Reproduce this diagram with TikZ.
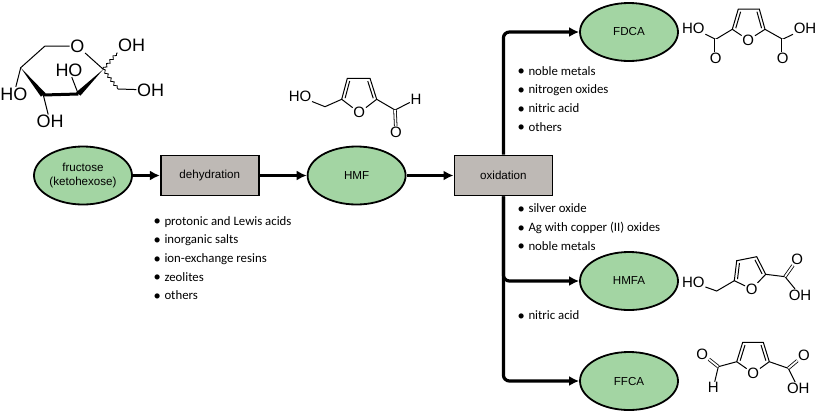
\documentclass[tikz,border=0pt]{standalone}
\usepackage{fontspec}
\setmainfont{Liberation Sans}
\newfontfamily\listfont{Carlito}
\usetikzlibrary{positioning}
\usetikzlibrary{calc}
\usetikzlibrary{shapes.geometric}
\usetikzlibrary{arrows.meta}
\usetikzlibrary{decorations.pathmorphing}
\definecolor{leaf}{HTML}{A3D5A3}
\definecolor{stone}{HTML}{BEB9B5}
\tikzset{product/.style={ellipse,draw,line width=1.8pt,fill=leaf,minimum width=98pt,minimum height=58pt,inner sep=0pt,align=center,font=\fontsize{11.6}{13.5}\selectfont},
         process/.style={rectangle,draw,line width=1.8pt,fill=stone,minimum width=98pt,minimum height=40pt,inner sep=0pt,font=\fontsize{11.6}{13.5}\selectfont},
         flow/.style={line width=3.2pt,-{Latex[length=10pt,width=10pt]},rounded corners=6pt},
         bond/.style={line width=1pt},
         twobond/.style={line width=.8pt,double,double distance=1.8pt},
         wavy/.style={line width=.8pt,decorate,decoration={snake,amplitude=1.3pt,segment length=5pt}},
         atom/.style={inner sep=.6pt,font=\fontsize{15}{15}\selectfont},
         bigatom/.style={inner sep=.6pt,font=\fontsize{18}{18}\selectfont},
         entry/.style={anchor=base west,inner sep=0pt,font=\listfont\fontsize{12.8}{14}\selectfont},
         }
% inner line of a ring double bond
\newcommand{\ringbond}[2]{\draw[bond,shorten <=2pt,shorten >=2pt] ($(#1)!3pt!-90:(#2)$) -- ($(#2)!3pt!90:(#1)$);}
\newcommand{\entrytext}[1]{\makebox[11pt][l]{\fontsize{14.5}{14}\selectfont\raisebox{-.8pt}{\textbullet}}#1}
\begin{document}
\begin{tikzpicture}[x=1pt,y=-1pt]
		\useasboundingbox (0,0) rectangle (816,413);
		% main line
		\node[product] (fructose) at (83,175.5) {fructose\\(ketohexose)};
		\node[process,right=27pt of fructose] (dehydration) {dehydration};
		\node[product,right=47pt of dehydration] (HMF) {HMF};
		\node[process,right=47pt of HMF] (oxidation) {oxidation};
		\node[product] (FDCA) at (629,32) {FDCA};
		\node[product] (HMFA) at (629,281) {HMFA};
		\node[product] (FFCA) at (629,381) {FFCA};
		\draw[flow] (fructose) -- (dehydration);
		\draw[flow] (dehydration) -- (HMF);
		\draw[flow] (HMF) -- (oxidation);
		\draw[flow] (oxidation.north) |- (FDCA.west);
		\draw[flow] (oxidation.south) |- (HMFA.west);
		\draw[flow] (oxidation.south) |- (FFCA.west);
		% lists
		\node[entry] (acids) at (153.3,225) {\entrytext{protonic and Lewis acids}};
		\node[entry] (salts) at (153.3,243.7) {\entrytext{inorganic salts}};
		\node[entry] (resins) at (153.3,262.3) {\entrytext{ion-exchange resins}};
		\node[entry] (zeolites) at (153.3,281) {\entrytext{zeolites}};
		\node[entry] (othersA) at (153.3,299.7) {\entrytext{others}};
		\node[entry] (nobleA) at (517.3,75) {\entrytext{noble metals}};
		\node[entry] (nitrogen) at (517.3,93.7) {\entrytext{nitrogen oxides}};
		\node[entry] (nitricA) at (517.3,112.3) {\entrytext{nitric acid}};
		\node[entry] (othersB) at (517.3,131) {\entrytext{others}};
		\node[entry] (silver) at (517.3,212.7) {\entrytext{silver oxide}};
		\node[entry] (copper) at (517.3,231.3) {\entrytext{Ag with copper (II) oxides}};
		\node[entry] (nobleB) at (517.3,250) {\entrytext{noble metals}};
		\node[entry] (nitricB) at (517.3,319.3) {\entrytext{nitric acid}};
		% fructose
		\node[bigatom] (froO) at (77.3,46) {O};
		\node[bigatom] (froOHa) at (131.7,45.7) {OH};
		\node[bigatom] (froOHb) at (150.7,90) {OH};
		\node[bigatom] (froHOa) at (69,70) {HO};
		\node[bigatom] (froHOb) at (14,94) {HO};
		\node[bigatom] (froOHc) at (50,121.7) {OH};
		\coordinate (froA) at (45,46);
		\coordinate (froB) at (20.7,67.7);
		\coordinate (froC) at (43.3,95);
		\coordinate (froD) at (78.3,94);
		\coordinate (froE) at (103.3,69.3);
		\coordinate (froF) at (117,53);
		\coordinate (froG) at (118,89);
		\draw[bond] (froO) -- (froA) -- (froB) -- (froHOb);
		\draw[bond] (froO) -- (froE);
		\draw[bond] (froC) -- (froOHc);
		\draw[bond] (froD) -- (froHOa);
		\draw[line width=3pt] (froC) -- (froD);
		\fill ($(froB)$) -- ($(froC)+(-2.4,1.6)$) -- ($(froC)+(2.4,-1.6)$) -- cycle;
		\fill ($(froE)$) -- ($(froD)+(2.2,1.6)$) -- ($(froD)+(-2.2,-1.6)$) -- cycle;
		\draw[wavy] (froE) -- (froF);
		\draw[wavy] (froE) -- (froG);
		\draw[bond] (froF) -- (froOHa);
		\draw[bond] (froG) -- (froOHb);
		% HMF molecule
		\node[atom] (hmfHO) at (300,96.7) {HO};
		\node[atom] (hmfO) at (359.3,112.7) {O};
		\node[atom] (hmfH) at (416,99.3) {H};
		\node[atom] (hmfOb) at (396,132.3) {O};
		\coordinate (hmfA) at (325,106.7);
		\coordinate (hmfB) at (341.7,99.3);
		\coordinate (hmfC) at (347.3,78.3);
		\coordinate (hmfD) at (370,78.3);
		\coordinate (hmfE) at (376.7,99.3);
		\coordinate (hmfF) at (395,110);
		\draw[bond] (hmfHO) -- (hmfA) -- (hmfB) -- (hmfC) -- (hmfD) -- (hmfE) -- (hmfF) -- (hmfH);
		\draw[bond] (hmfB) -- (hmfO) -- (hmfE);
		\ringbond{hmfB}{hmfC}
		\ringbond{hmfD}{hmfE}
		\draw[twobond] (hmfF) -- (hmfOb);
		% FDCA molecule
		\node[atom] (fdcHOa) at (693.3,28.3) {HO};
		\node[atom] (fdcOa) at (715.7,58.3) {O};
		\node[atom] (fdcO) at (748.3,40) {O};
		\node[atom] (fdcHOb) at (805,28.3) {OH};
		\node[atom] (fdcOb) at (782.7,58.3) {O};
		\coordinate (fdcA) at (715.7,39.3);
		\coordinate (fdcB) at (732.3,29.3);
		\coordinate (fdcC) at (738.3,9);
		\coordinate (fdcD) at (759.3,9);
		\coordinate (fdcE) at (765,29.3);
		\coordinate (fdcF) at (782.7,39.3);
		\draw[bond] (fdcHOa) -- (fdcA) -- (fdcB) -- (fdcC) -- (fdcD) -- (fdcE) -- (fdcF) -- (fdcHOb);
		\draw[bond] (fdcB) -- (fdcO) -- (fdcE);
		\ringbond{fdcB}{fdcC}
		\ringbond{fdcD}{fdcE}
		\draw[twobond] (fdcA) -- (fdcOa);
		\draw[twobond] (fdcF) -- (fdcOb);
		% HMFA molecule
		\node[atom] (hfaHO) at (693.3,282.7) {HO};
		\node[atom] (hfaO) at (751.7,289) {O};
		\node[atom] (hfaOb) at (797.3,259.3) {O};
		\node[atom] (hfaOH) at (800,295) {OH};
		\coordinate (hfaA) at (716.7,291);
		\coordinate (hfaB) at (734.3,280.7);
		\coordinate (hfaC) at (736.7,260.7);
		\coordinate (hfaD) at (756.7,256.7);
		\coordinate (hfaE) at (765.7,274.3);
		\coordinate (hfaF) at (785,276.7);
		\draw[bond] (hfaHO) -- (hfaA) -- (hfaB) -- (hfaC) -- (hfaD) -- (hfaE) -- (hfaF) -- (hfaOH);
		\draw[bond] (hfaB) -- (hfaO) -- (hfaE);
		\ringbond{hfaB}{hfaC}
		\ringbond{hfaD}{hfaE}
		\draw[twobond] (hfaF) -- (hfaOb);
		% FFCA molecule
		\node[atom] (ffcOa) at (702.3,354) {O};
		\node[atom] (ffcH) at (713.3,387.7) {H};
		\node[atom] (ffcO) at (753.3,373.3) {O};
		\node[atom] (ffcOb) at (804,355) {O};
		\node[atom] (ffcOH) at (798.3,388.3) {OH};
		\coordinate (ffcA) at (718.3,366.7);
		\coordinate (ffcB) at (736.7,361.7);
		\coordinate (ffcC) at (742.7,342.3);
		\coordinate (ffcD) at (763.3,342.3);
		\coordinate (ffcE) at (769.3,361.7);
		\coordinate (ffcF) at (788.3,368.3);
		\draw[bond] (ffcH) -- (ffcA) -- (ffcB) -- (ffcC) -- (ffcD) -- (ffcE) -- (ffcF) -- (ffcOH);
		\draw[bond] (ffcB) -- (ffcO) -- (ffcE);
		\ringbond{ffcB}{ffcC}
		\ringbond{ffcD}{ffcE}
		\draw[twobond] (ffcA) -- (ffcOa);
		\draw[twobond] (ffcF) -- (ffcOb);
\end{tikzpicture}
\end{document}
